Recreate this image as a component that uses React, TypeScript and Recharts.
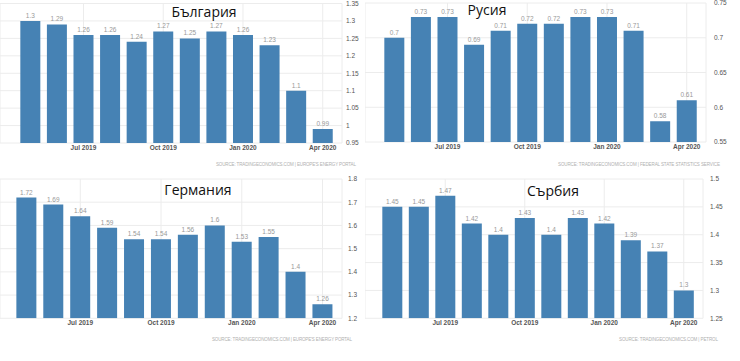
import React from 'react';
import { BarChart, Bar, XAxis, YAxis, CartesianGrid, LabelList } from 'recharts';

const months = ['May 2019', 'Jun 2019', 'Jul 2019', 'Aug 2019', 'Sep 2019', 'Oct 2019', 'Nov 2019', 'Dec 2019', 'Jan 2020', 'Feb 2020', 'Mar 2020', 'Apr 2020'];
const xTicks = ['Jul 2019', 'Oct 2019', 'Jan 2020', 'Apr 2020'];

const bulgaria = [1.3, 1.29, 1.26, 1.26, 1.24, 1.27, 1.25, 1.27, 1.26, 1.23, 1.1, 0.99];
const russia = [0.7, 0.73, 0.73, 0.69, 0.71, 0.72, 0.72, 0.73, 0.73, 0.71, 0.58, 0.61];
const germany = [1.72, 1.69, 1.64, 1.59, 1.54, 1.54, 1.56, 1.6, 1.53, 1.55, 1.4, 1.26];
const serbia = [1.45, 1.45, 1.47, 1.42, 1.4, 1.43, 1.4, 1.43, 1.42, 1.39, 1.37, 1.3];

const bulgariaTicks = [0.95, 1, 1.05, 1.1, 1.15, 1.2, 1.25, 1.3, 1.35];
const russiaTicks = [0.55, 0.6, 0.65, 0.7, 0.75];
const germanyTicks = [1.2, 1.3, 1.4, 1.5, 1.6, 1.7, 1.8];
const serbiaTicks = [1.25, 1.3, 1.35, 1.4, 1.45, 1.5];

const BAR = '#4682B4';
const FONT = '"Liberation Sans", Arial, sans-serif';
const PAD_RIGHT = 6;

type PanelProps = {
  values: number[];
  ticks: number[];
  left: number;
  top: number;
  width: number;
  height: number;
  bandStart: number;
  bandEnd: number;
  labelX: number;
  marginTop: number;
};

function Panel(p: PanelProps) {
  const data = months.map((m, i) => ({ month: m, value: p.values[i] }));
  const axisX = p.bandEnd + PAD_RIGHT;
  const yWidth = p.width - axisX;
  return (
    <div style={{ position: 'absolute', left: p.left, top: p.top }}>
      <BarChart width={p.width} height={p.height} data={data}
        margin={{ top: p.marginTop, left: 0, right: 0, bottom: 0 }} barCategoryGap="12.5%">
        <CartesianGrid stroke="#ececec" strokeWidth={1} />
        <XAxis
          dataKey="month"
          ticks={xTicks}
          interval={0}
          axisLine={false}
          tickLine={false}
          tickSize={0}
          tickMargin={2}
          height={14}
          padding={{ left: p.bandStart, right: PAD_RIGHT }}
          tick={{ fontSize: 6.5, fill: '#555', fontWeight: 'bold', fontFamily: FONT }}
        />
        <YAxis
          orientation="right"
          domain={[p.ticks[0], p.ticks[p.ticks.length - 1]]}
          ticks={p.ticks}
          interval={0}
          width={yWidth}
          axisLine={false}
          tickLine={false}
          tickSize={0}
          tickMargin={p.labelX - axisX}
          allowDataOverflow
          tick={{ fontSize: 6.5, fill: '#555', textAnchor: 'start', fontFamily: FONT }}
        />
        <Bar dataKey="value" fill={BAR} isAnimationActive={false}>
          <LabelList dataKey="value" position="top" offset={3} style={{ fontSize: 6.5, fill: '#999', fontFamily: FONT }} />
        </Bar>
      </BarChart>
    </div>
  );
}

export default function App() {
  return (
    <div style={{ position: 'fixed', left: 0, top: 0, width: 740, height: 361, background: '#fff', overflow: 'hidden' }}>
      <Panel values={bulgaria} ticks={bulgariaTicks} left={0} top={0} width={360} height={157}
        bandStart={17} bandEnd={336} labelX={346} marginTop={3.5} />
      <Panel values={russia} ticks={russiaTicks} left={365} top={0} width={365} height={156}
        bandStart={16} bandEnd={335} labelX={349} marginTop={3} />
      <Panel values={germany} ticks={germanyTicks} left={0} top={175} width={360} height={157.3}
        bandStart={13} bandEnd={336} labelX={348} marginTop={4} />
      <Panel values={serbia} ticks={serbiaTicks} left={365} top={175} width={365} height={157.3}
        bandStart={14} bandEnd={332} labelX={345} marginTop={4} />
      <svg width={740} height={361} style={{ position: 'absolute', left: 0, top: 0, pointerEvents: 'none' }}>
        <g fontFamily='"Open Sans", sans-serif' fontSize={14} fill="#111" textAnchor="middle">
          <text x={204} y={17}>България</text>
          <text x={487} y={15}>Русия</text>
          <text x={198} y={195}>Германия</text>
          <text x={553} y={196}>Сърбия</text>
        </g>
        <g fontFamily={FONT} fontSize={4.5} fill="#b0b0b0" textAnchor="end">
          <text x={356} y={166} textLength={140} lengthAdjust="spacing">SOURCE: TRADINGECONOMICS.COM | EUROPE'S ENERGY PORTAL</text>
          <text x={720} y={165.5} textLength={162} lengthAdjust="spacing">SOURCE: TRADINGECONOMICS.COM | FEDERAL STATE STATISTICS SERVICE</text>
          <text x={352} y={341} textLength={140} lengthAdjust="spacing">SOURCE: TRADINGECONOMICS.COM | EUROPE'S ENERGY PORTAL</text>
          <text x={718} y={341} textLength={99} lengthAdjust="spacing">SOURCE: TRADINGECONOMICS.COM | PETROL</text>
        </g>
      </svg>
    </div>
  );
}
